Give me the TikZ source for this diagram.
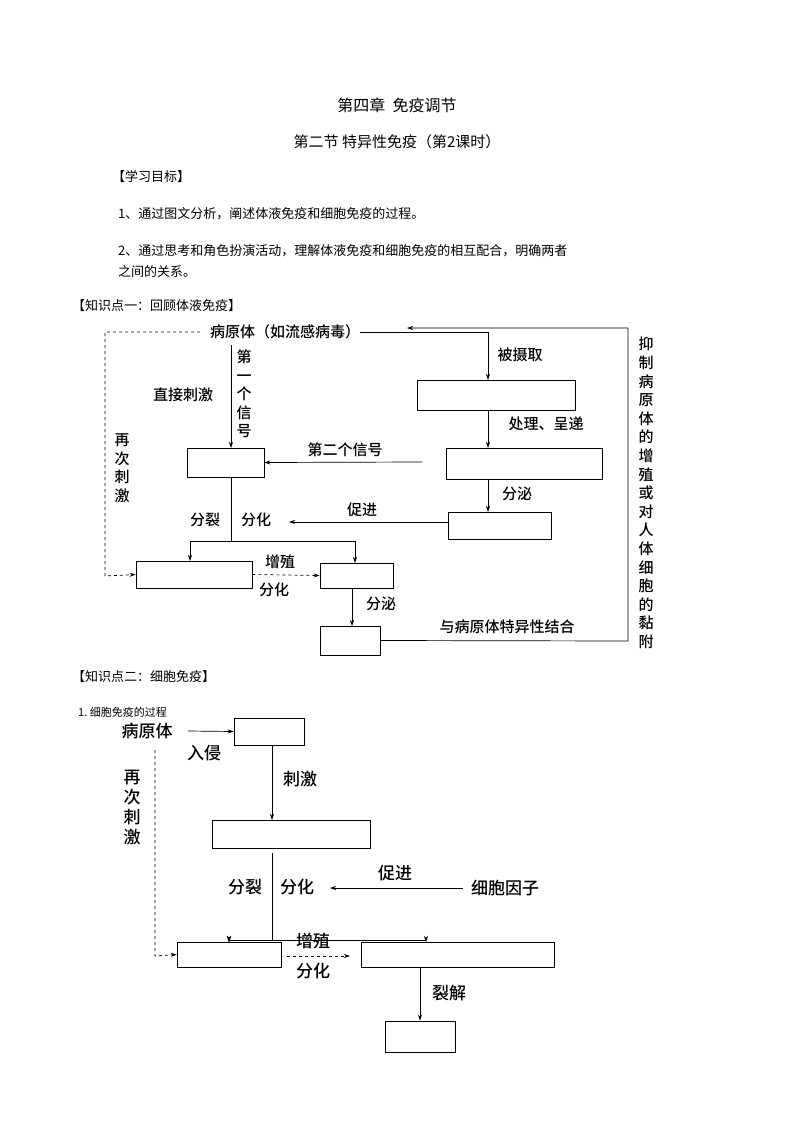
\documentclass[tikz,border=0pt]{standalone}
\usepackage{fontspec}
\setmainfont{Liberation Serif}
\newfontfamily\cjk{Noto Sans CJK SC}
\newfontfamily\cjkb{Noto Sans CJK SC Medium}
\usetikzlibrary{arrows.meta}
\begin{document}
\begin{tikzpicture}[x=1pt,y=-1pt,
 bx/.style={draw,line width=0.7pt},
 ln/.style={line width=0.7pt},
 ar/.style={line width=0.7pt,-{Stealth[length=6pt,width=4pt]}},
 dar/.style={line width=0.7pt,dashed,-{Stealth[length=6pt,width=4pt]}},
 lb/.style={font=\cjkb\fontsize{15}{17}\selectfont,inner sep=0pt},
 vl/.style={font=\cjkb\fontsize{15}{18.5}\selectfont,inner sep=0pt,text width=15pt,align=center},
 tx/.style={font=\cjk\fontsize{13}{16}\selectfont,inner sep=0pt,anchor=west}]
\useasboundingbox (0,0) rectangle (794,1123);
% header
\node[font=\cjk\fontsize{16}{18}\selectfont] (t1) at (397,105) {第四章\ \ 免疫调节};
\node[font=\cjk\fontsize{15}{18}\selectfont] (t2) at (397,142) {第二节 特异性免疫（第2课时）};
\node[tx] (g) at (112,177) {【学习目标】};
\node[tx] (g1) at (118,214) {1、通过图文分析，阐述体液免疫和细胞免疫的过程。};
\node[tx] (g2) at (118,251) {2、通过思考和角色扮演活动，理解体液免疫和细胞免疫的相互配合，明确两者};
\node[tx] (g3) at (118,272) {之间的关系。};
\node[tx] (k1) at (72,306) {【知识点一：回顾体液免疫】};
% diagram 1
\node[lb,anchor=west] (P) at (210,332) {病原体（如流感病毒）};
\node[bx,minimum width=77pt,minimum height=29pt] (A) at (225.5,462.5) {};
\node[bx,minimum width=158pt,minimum height=30pt] (B) at (496,395) {};
\node[bx,minimum width=156pt,minimum height=31pt] (C) at (524,463.5) {};
\node[bx,minimum width=103pt,minimum height=27pt] (D) at (499.5,525.5) {};
\node[bx,minimum width=116pt,minimum height=27pt] (E) at (194,574.5) {};
\node[bx,minimum width=73pt,minimum height=25pt] (F) at (356.5,575.5) {};
\node[bx,minimum width=60pt,minimum height=29pt] (G) at (350,640.5) {};
\coordinate (pd) at (231,345);
\draw[ar] (pd) -- (231,448);
\node[vl] (s1) at (244,394) {第\\一\\个\\信\\号};
\node[lb] (zj) at (183,395) {直接刺激};
\draw[ar] (P.east) -- (488,332) -- (488,380);
\node[lb] (bs) at (520,355) {被摄取};
\draw[ar] (488,410) -- (488,448);
\node[lb] (cl) at (546,424) {处理、呈递};
\coordinate (c2) at (422,462);
\draw[ar] (c2) -- (A.east);
\node[lb] (s2) at (345,450) {第二个信号};
\draw[ar] (488,479) -- (488,512);
\node[lb] (fm) at (517,494) {分泌};
\draw[ar] (D.west |- 0,522) -- (289,522);
\node[lb] (cj) at (362,510) {促进};
\draw[ln] (A.south -| 231,0) -- (231,541);
\node[lb] (fl) at (205,520) {分裂};
\node[lb] (fh) at (256,520) {分化};
\draw[ar] (190,541) -- (190,561);
\draw[ln] (190,541) -- (355,541);
\draw[ar] (355,541) -- (355,563);
\draw[dar] (E.east) -- (F.west);
\node[lb] (zz) at (280,562) {增殖};
\node[lb] (fh2) at (274,590) {分化};
\draw[ar] (352,588) -- (352,626);
\node[lb] (fm2) at (381,604) {分泌};
\node[lb] (yb) at (507,627) {与病原体特异性结合};
\draw[ln,-{Stealth[length=6pt,width=4pt]}] (G.east) -- (628,641) -- (628,328) -- (407,328);
\node[vl,font=\cjkb\fontsize{15}{18.6}\selectfont] (yz) at (646,493) {抑\\制\\病\\原\\体\\的\\增\\殖\\或\\对\\人\\体\\细\\胞\\的\\黏\\附};
\draw[dar] (200,332) -- (105,332) -- (105,576) -- (E.west);
\node[vl] (zc) at (122,468) {再\\次\\刺\\激};
% diagram 2
\node[tx] (k2) at (72,677) {【知识点二：细胞免疫】};
\node[font=\cjk\fontsize{11}{13}\selectfont,anchor=west,inner sep=0pt] (h) at (78,712) {1.\ 细胞免疫的过程};
\node[lb,font=\cjkb\fontsize{17}{19}\selectfont] (P2) at (147,731) {病原体};
\node[bx,minimum width=70pt,minimum height=27pt] (H) at (269,731.5) {};
\node[bx,minimum width=158pt,minimum height=28pt] (I) at (291,834) {};
\node[bx,minimum width=104pt,minimum height=25pt] (J) at (229,954.5) {};
\node[bx,minimum width=193pt,minimum height=25pt] (K) at (457.5,954.5) {};
\node[bx,minimum width=70pt,minimum height=31pt] (L) at (420,1036.5) {};
\draw[ar] (188,731) -- (H.west);
\node[lb,font=\cjkb\fontsize{17}{19}\selectfont] (rq) at (204,753) {入侵};
\draw[ar] (272,745) -- (272,820);
\node[lb,font=\cjkb\fontsize{17}{19}\selectfont] (cj2) at (300,779) {刺激};
\draw[ln] (272,853) -- (272,940);
\node[lb,font=\cjkb\fontsize{17}{19}\selectfont] (fl2) at (245,887) {分裂};
\node[lb,font=\cjkb\fontsize{17}{19}\selectfont] (fh3) at (297,887) {分化};
\node[lb,font=\cjkb\fontsize{17}{19}\selectfont] (xb) at (505,888) {细胞因子};
\draw[ar] (xb.west) ++(-8,0) -- (330,888);
\node[lb,font=\cjkb\fontsize{17}{19}\selectfont] (cj3) at (395,873) {促进};
\draw[ln] (229,940) -- (426,940);
\draw[ar] (229,940) -- (229,942);
\draw[ar] (229,940) -- ++(0,2);
\draw[ar] (229,938) -- (229,942);
\draw[ar] (426,938) -- (426,942);
\draw[dar] (287,956) -- (350,956);
\node[lb,font=\cjkb\fontsize{17}{19}\selectfont] (zz2) at (313,941) {增殖};
\node[lb,font=\cjkb\fontsize{17}{19}\selectfont] (fh4) at (313,971) {分化};
\draw[ar] (420,967) -- (L.north);
\node[lb,font=\cjkb\fontsize{17}{19}\selectfont] (lj) at (449,993) {裂解};
\draw[dar] (155,750) -- (155,956) -- (J.west);
\node[vl,font=\cjkb\fontsize{17}{20}\selectfont] (zc2) at (131,808) {再\\次\\刺\\激};
\end{tikzpicture}
\end{document}
